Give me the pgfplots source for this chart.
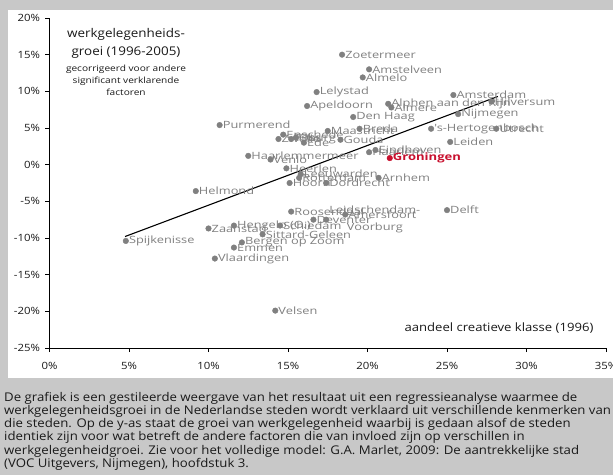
\documentclass[border=0pt]{standalone}
\usepackage{pgfplots}
\pgfplotsset{compat=1.18}
\usepackage{pgfplotstable}
\usepackage{fontspec}
\setmainfont{Open Sans}
\newfontfamily\labfont{Open Sans}[FakeStretch=1.28]
\newfontfamily\tickfont{Open Sans}[FakeStretch=1.14]
\newfontfamily\parafont{Open Sans}[FakeStretch=1.10]
\newfontfamily\bigfont{Open Sans}[FakeStretch=1.12]
\newfontfamily\smallfont{Open Sans}[FakeStretch=1.19]
\definecolor{bggray}{HTML}{C8C8C8}
\definecolor{dotgray}{HTML}{808080}
\definecolor{gronred}{HTML}{C8102E}
\definecolor{txt}{HTML}{1A1A1A}

% steden: aandeel creatieve klasse (1996) vs. gecorrigeerde werkgelegenheidsgroei
\pgfplotstableread[col sep=comma]{
x,y,name
18.4,15.0,Zoetermeer
20.1,13.0,Amstelveen
19.7,11.9,Almelo
16.8,9.9,Lelystad
16.2,8.0,Apeldoorn
21.3,8.3,Alphen aan den Rijn
21.5,7.8,Almere
19.1,6.5,Den Haag
25.4,9.5,Amsterdam
27.8,8.6,Hilversum
25.7,6.9,Nijmegen
24.0,4.9,'s-Hertogenbosch
28.1,4.9,Utrecht
25.2,3.1,Leiden
20.5,2.0,Eindhoven
20.1,1.7,Haarlem
19.5,4.9,Breda
17.5,4.6,Maastricht
18.3,3.4,Gouda
10.7,5.4,Purmerend
14.4,3.5,Zwolle
14.7,4.1,Enschede
15.2,3.5,Tilburg
15.5,3.7,Oss
16.0,3.0,Ede
12.5,1.2,Haarlemmermeer
13.9,0.7,Venlo
14.9,-0.5,Heerlen
15.8,-1.3,Leeuwarden
15.7,-1.8,Rotterdam
15.1,-2.5,Hoorn
17.4,-2.5,Dordrecht
20.7,-1.8,Arnhem
25.0,-6.2,Delft
15.2,-6.4,Roosendaal
18.6,-6.8,Amersfoort
16.6,-7.5,Deventer
14.5,-8.3,Schiedam
11.6,-8.3,Hengelo (O.)
10.0,-8.7,Zaanstad
13.4,-9.5,Sittard-Geleen
12.1,-10.6,Bergen op Zoom
11.6,-11.3,Emmen
10.4,-12.8,Vlaardingen
4.8,-10.4,Spijkenisse
9.2,-3.6,Helmond
14.2,-19.9,Velsen
}\steden

\begin{document}
\begin{tikzpicture}[x=1pt,y=1pt]
\useasboundingbox (0,0) rectangle (613,-475);
\clip (0,0) rectangle (613,-475);
\fill[bggray] (0,0) rectangle (613,-475);
\fill[white] (8,-10) rectangle (613,-378);
\begin{axis}[
  at={(49.5pt,-348pt)}, anchor=south west,
  scale only axis, width=556.5pt, height=330pt,
  xmin=0, xmax=35, ymin=-25, ymax=20,
  axis lines*=left,
  axis line style={line width=1pt},
  xtick={0,5,...,35}, ytick={-25,-20,...,20},
  tick align=outside, major tick length=4pt,
  tick style={black, line width=0.8pt},
  /pgf/number format/assume math mode=true,
  xticklabel={\pgfmathprintnumber{\tick}\%},
  yticklabel={\pgfmathprintnumber{\tick}\%},
  tick label style={font=\tickfont\fontsize{10}{12}\selectfont, text=txt},
  xticklabel style={yshift=-7pt},
  yticklabel style={xshift=-2pt},
  clip=false,
]
\addplot[black, line width=1.1pt] coordinates {(4.75,-9.8) (28.2,9.3)};

\addplot[only marks, mark=*, mark size=2.8pt, color=dotgray,
  point meta=explicit symbolic,
  nodes near coords,
  nodes near coords style={anchor=west, xshift=3pt, inner sep=0pt,
    text=dotgray, font=\labfont\fontsize{10}{11}\selectfont}]
  table[x=x, y=y, meta=name] {\steden};

\addplot[only marks, mark=*, mark size=2.8pt, color=dotgray,
  point meta=explicit symbolic,
  nodes near coords,
  nodes near coords style={anchor=west, xshift=3pt, inner sep=0pt, align=center,
    text=dotgray, font=\labfont\fontsize{10}{17}\selectfont}]
  coordinates {(17.4,-7.5) [Leidschendam-\\Voorburg]};

\addplot[only marks, mark=*, mark size=2.8pt, color=gronred,
  point meta=explicit symbolic,
  nodes near coords,
  nodes near coords style={anchor=west, xshift=3pt, inner sep=0pt,
    text=gronred, font=\labfont\fontsize{10.2}{12}\selectfont\bfseries}]
  coordinates {(21.4,0.9) [Groningen]};
\end{axis}

\node[align=center, text=txt, font=\bigfont\fontsize{12}{18}\selectfont] at (126,-43)
  {werkgelegenheids-\\groei (1996-2005)};
\node[align=center, text=txt, font=\smallfont\fontsize{8.5}{12}\selectfont] at (126,-80)
  {gecorrigeerd voor andere\\significant verklarende\\factoren};
\node[anchor=east, text=txt, font=\tickfont\fontsize{11.5}{13}\selectfont] at (597,-328)
  {aandeel creatieve klasse (1996)};

\node[anchor=north west, align=left, inner sep=0pt, text=txt,
  font=\parafont\fontsize{12}{13.2}\selectfont] at (4,-392)
  {De grafiek is een gestileerde weergave van het resultaat uit een regressieanalyse waarmee de\\
   werkgelegenheidsgroei in de Nederlandse steden wordt verklaard uit verschillende kenmerken van\\
   die steden. Op de y-as staat de groei van werkgelegenheid waarbij is gedaan alsof de steden\\
   identiek zijn voor wat betreft de andere factoren die van invloed zijn op verschillen in\\
   werkgelegenheidgroei. Zie voor het volledige model: G.A. Marlet, 2009: De aantrekkelijke stad\\
   (VOC Uitgevers, Nijmegen), hoofdstuk 3.};
\end{tikzpicture}
\end{document}
